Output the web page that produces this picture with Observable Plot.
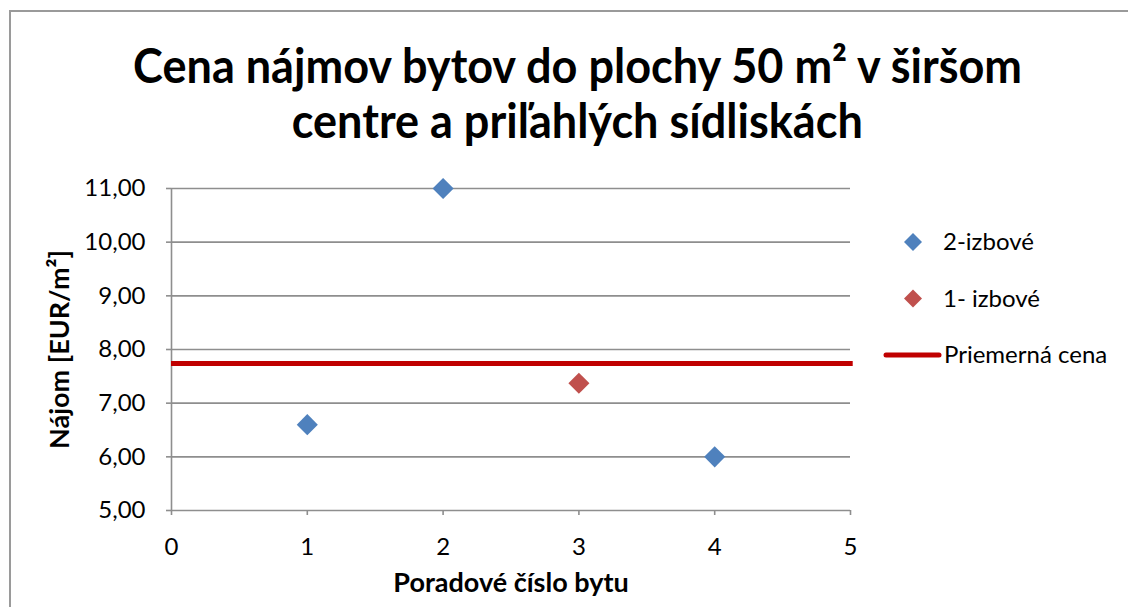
<!DOCTYPE html>
<html>
<head>
<meta charset="utf-8">
<script src="https://cdn.jsdelivr.net/npm/d3@7"></script>
<script src="https://cdn.jsdelivr.net/npm/@observablehq/plot@0.6"></script>
<style>
  html, body { margin: 0; padding: 0; background: #fff; overflow: hidden; }
  #wrap { position: relative; width: 1128px; height: 607px; overflow: hidden; font-family: Lato, "Open Sans", sans-serif; }
  #frame { position: absolute; left: 9px; top: 10px; width: 1300px; height: 800px; border-left: 2px solid #9a9a9a; border-top: 2px solid #9a9a9a; }
  #title { position: absolute; left: 0; width: 1155px; top: 37px; text-align: center; font-weight: bold; font-size: 48px; line-height: 55px; color: #000; }
  #title span { display: inline-block; white-space: nowrap; }
  #chart { position: absolute; left: 0; top: 0; }
  #legend { position: absolute; left: 870px; top: 220px; }
</style>
</head>
<body>
<div id="wrap">
  <div id="frame"></div>
  <div id="chart"></div>
  <div id="title"><span id="t1">Cena nájmov bytov do plochy 50 m² v širšom</span><br><span id="t2">centre a priľahlých sídliskách</span></div>
  <div id="legend"></div>
</div>
<script>
// ---- data ----
const twoRoomX = [1, 2, 4];
const twoRoomY = [6.60, 11.00, 6.00];
const oneRoomX = [3];
const oneRoomY = [7.37];
const averagePrice = [7.74];
const xTicks = [0, 1, 2, 3, 4, 5];
const yTicks = [5, 6, 7, 8, 9, 10, 11];
const seriesNames = ["2-izbové", "1- izbové", "Priemerná cena"];
const seriesColors = ["#4F81BD", "#C0504D", "#C00000"];

const twoRoom = twoRoomX.map((x, i) => ({x, y: twoRoomY[i]}));
const oneRoom = oneRoomX.map((x, i) => ({x, y: oneRoomY[i]}));
const fmt = v => v.toFixed(2).replace(".", ",");
const gridColor = "#8e8e8e";
const font = 'Lato, "Open Sans", sans-serif';

// fit title horizontally (condensed look of the original)
const t1 = document.getElementById("t1"), t2 = document.getElementById("t2");
const sx = 889 / t1.getBoundingClientRect().width;
[t1, t2].forEach(s => { s.style.transform = `scaleX(${sx})`; s.style.transformOrigin = "center"; });

const chart = Plot.plot({
  width: 1128,
  height: 607,
  marginLeft: 171,
  marginRight: 278,
  marginTop: 188,
  marginBottom: 97,
  style: {fontFamily: font, fontSize: "24px", color: "#000", background: "transparent"},
  x: {domain: [0, 5]},
  y: {domain: [5, 11]},
  marks: [
    Plot.ruleY(yTicks, {stroke: gridColor, strokeWidth: 1.6, strokeOpacity: 1}),
    Plot.ruleX([0], {stroke: gridColor, strokeWidth: 1.6}),
    Plot.axisX({ticks: xTicks, tickSize: 5, tickPadding: 22, tickFormat: d => String(d), stroke: gridColor, strokeWidth: 1.6, strokeOpacity: 1,
      fill: "#000", label: "Poradové číslo bytu", labelAnchor: "center", labelOffset: 81, labelArrow: "none", fontSize: 24}),
    Plot.axisY({ticks: yTicks, tickSize: 5, tickPadding: 21, tickFormat: fmt, stroke: gridColor, strokeWidth: 1.6, strokeOpacity: 1,
      fill: "#000", label: "Nájom [EUR/m²]", labelAnchor: "center", labelOffset: 122, labelArrow: "none", fontSize: 24}),
    Plot.ruleY(averagePrice, {x1: 0, x2: 5.02, stroke: seriesColors[2], strokeWidth: 5}),
    Plot.dot(twoRoom, {x: "x", y: "y", symbol: "diamond2", r: 9.5, fill: seriesColors[0], stroke: "none"}),
    Plot.dot(oneRoom, {x: "x", y: "y", symbol: "diamond2", r: 9.5, fill: seriesColors[1], stroke: "none"})
  ]
});
document.getElementById("chart").appendChild(chart);
// bold, slightly larger axis titles
chart.querySelectorAll("[aria-label='x-axis label'] text, [aria-label='y-axis label'] text").forEach(t => {
  t.setAttribute("font-weight", "bold");
  t.style.fontWeight = "bold";
  t.style.fontSize = "27px";
});

// ---- legend ----
const lg = d3.select("#legend").append("svg").attr("width", 258).attr("height", 160)
  .style("font-family", font).style("font-size", "24px");
const rows = lg.selectAll("g").data(seriesNames).join("g")
  .attr("transform", (d, i) => `translate(0, ${22 + i * 56.5})`);
rows.filter((d, i) => i < 2).append("path")
  .attr("d", "M43,-9 L52,0 L43,9 L34,0 Z")
  .attr("fill", (d, i) => seriesColors[i]);
rows.filter((d, i) => i === 2).append("line")
  .attr("x1", 16).attr("x2", 69).attr("y1", 0).attr("y2", 0)
  .attr("stroke", seriesColors[2]).attr("stroke-width", 5).attr("stroke-linecap", "round");
rows.append("text").text(d => d)
  .attr("x", (d, i) => i < 2 ? 73 : 74).attr("y", 8).attr("fill", "#000");
</script>
</body>
</html>
